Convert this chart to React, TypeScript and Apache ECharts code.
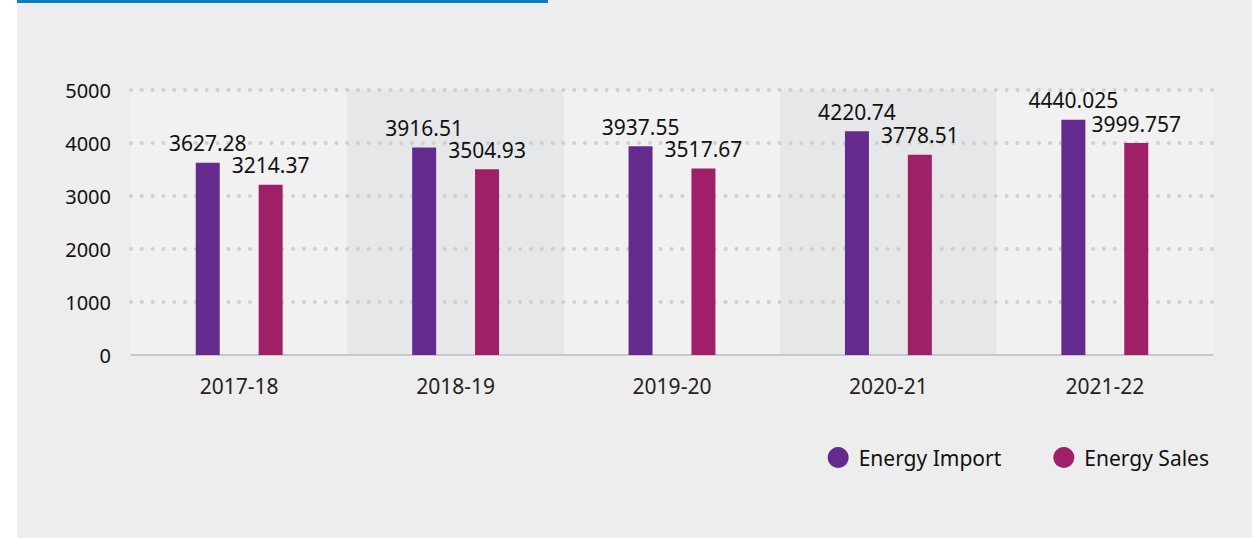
import React, { useEffect, useRef } from "react";
import * as echarts from "echarts";

const categories = ["2017-18", "2018-19", "2019-20", "2020-21", "2021-22"];
const energyImport = [3627.28, 3916.51, 3937.55, 4220.74, 4440.025];
const energySales = [3214.37, 3504.93, 3517.67, 3778.51, 3999.757];
const seriesNames = ["Energy Import", "Energy Sales"];
const yTicks = { min: 0, max: 5000, interval: 1000 };

const FONT = "'Noto Sans', sans-serif";

export default function App() {
  const ref = useRef<HTMLDivElement>(null);
  useEffect(() => {
    document.body.style.margin = "0";
    if (!ref.current) return;
    const chart = echarts.init(ref.current, null, { renderer: "svg" });
    const labelStyle = {
      show: true,
      position: "top",
      distance: 9,
      fontFamily: FONT,
      fontSize: 21,
      color: "#111",
    };
    chart.setOption({
      animation: false,
      backgroundColor: "#ffffff",
      graphic: [
        {
          type: "rect",
          z: -100,
          silent: true,
          shape: { x: 17, y: 0, width: 1235, height: 538 },
          style: { fill: "#ededed" },
        },
        {
          type: "rect",
          z: 100,
          silent: true,
          shape: { x: 17, y: 0, width: 531, height: 3 },
          style: { fill: "#0b7dc1" },
        },
      ],
      grid: { left: 131, right: 39, top: 90, bottom: 183, containLabel: false },
      legend: {
        data: seriesNames,
        right: 38,
        top: 442,
        icon: "circle",
        itemWidth: 21,
        itemHeight: 21,
        itemGap: 52,
        textStyle: { fontFamily: FONT, fontSize: 21, color: "#111", padding: [0, 0, 0, 5] },
      },
      xAxis: {
        type: "category",
        data: categories,
        z: 0,
        axisLine: { show: true, lineStyle: { color: "#c8c8cc", width: 2 } },
        axisTick: { show: false },
        axisLabel: { fontFamily: FONT, fontSize: 21, color: "#222", margin: 20 },
        splitArea: { show: true, areaStyle: { color: ["#f1f1f1", "#e6e7e9"] } },
        splitLine: { show: false },
      },
      yAxis: {
        type: "value",
        min: yTicks.min,
        max: yTicks.max,
        interval: yTicks.interval,
        z: 1,
        axisLine: { show: false },
        axisTick: { show: false },
        axisLabel: {
          fontFamily: FONT,
          fontSize: 20,
          color: "#111",
          margin: 20,
          formatter: (v: number) => String(v),
        },
        splitLine: {
          show: true,
          showMinLine: false,
          lineStyle: { color: "#cfcfcf", width: 4, type: [0.01, 10.8], cap: "round" },
        },
      },
      series: [
        {
          name: seriesNames[0],
          type: "bar",
          data: energyImport,
          barWidth: 24,
          barGap: "162%",
          itemStyle: { color: "#652a8e" },
          label: labelStyle,
        },
        {
          name: seriesNames[1],
          type: "bar",
          data: energySales,
          barWidth: 24,
          barGap: "162%",
          itemStyle: { color: "#a02068" },
          label: labelStyle,
        },
      ],
    });
    return () => chart.dispose();
  }, []);
  return (
    <div
      ref={ref}
      style={{ position: "absolute", left: 0, top: 0, width: 1252, height: 538 }}
    />
  );
}
